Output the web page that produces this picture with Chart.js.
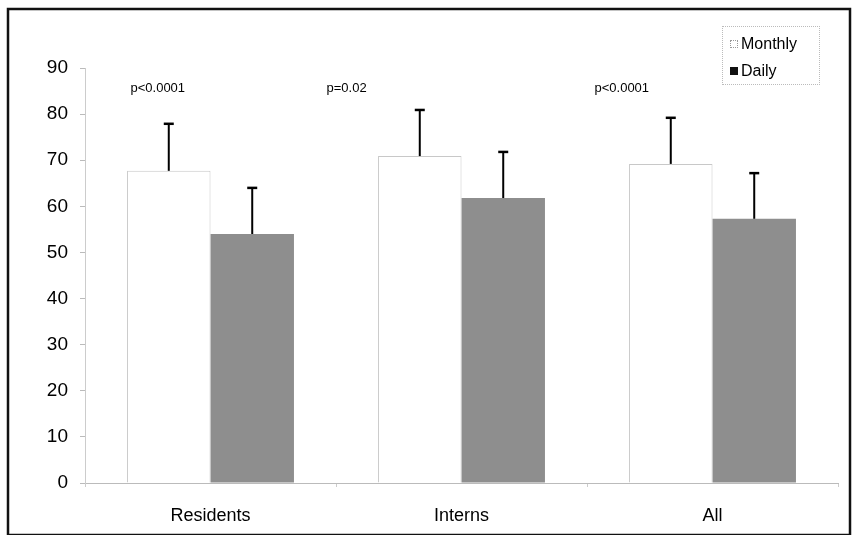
<!DOCTYPE html>
<html>
<head>
<meta charset="utf-8">
<script src="https://cdn.jsdelivr.net/npm/chart.js@4"></script>
<style>
    html, body { margin: 0; padding: 0; background: #fff; }
    #wrap { position: relative; width: 859px; height: 535px; }
    #legend {
        position: absolute; left: 722px; top: 26px; width: 96px; height: 57px;
        border: 1px dotted #bbb; font: 16px "Liberation Sans", Arial, sans-serif; color: #000;
    }
    #legend .row { position: absolute; left: 7px; height: 18px; line-height: 18px; }
    #legend .sw { display: inline-block; width: 8px; height: 8px; margin-right: 3px; vertical-align: 1px; box-sizing: border-box; }
</style>
</head>
<body>
<div id="wrap">
    <canvas id="chart" width="859" height="535"></canvas>
    <div id="legend">
        <div class="row" style="top:8px"><span class="sw" style="border:1px dotted #999;background:#fff"></span>Monthly</div>
        <div class="row" style="top:35px"><span class="sw" style="background:#111"></span>Daily</div>
    </div>
</div>
<script>
const groups = ["Residents", "Interns", "All"];
const monthly = [67.7, 70.9, 69.2];
const monthlySD = [10.2, 10.0, 10.0];
const daily = [54.0, 61.8, 57.3];
const dailySD = [10.0, 10.0, 9.9];
const pLabels = ["p<0.0001", "p=0.02", "p<0.0001"];
const pLevel = 85.5;
const yTicks = [0, 10, 20, 30, 40, 50, 60, 70, 80, 90];

const font = "Liberation Sans, Arial, sans-serif";

// error bars (upper half only) + p-value labels + outer frame
const extras = {
    id: "extras",
    afterDatasetsDraw(chart, args, opts) {
        const ctx = chart.ctx;
        const y = chart.scales.y, x = chart.scales.x;
        const errs = [monthlySD, dailySD];
        ctx.save();
        ctx.strokeStyle = "#000";
        chart.data.datasets.forEach((ds, di) => {
            chart.getDatasetMeta(di).data.forEach((bar, i) => {
                const top = y.getPixelForValue(ds.data[i] + errs[di][i]);
                ctx.lineWidth = 2;
                ctx.beginPath();
                ctx.moveTo(bar.x, bar.y);
                ctx.lineTo(bar.x, top);
                ctx.stroke();
                ctx.lineWidth = 2.5;
                ctx.beginPath();
                ctx.moveTo(bar.x - 5, top);
                ctx.lineTo(bar.x + 5, top);
                ctx.stroke();
            });
        });
        ctx.fillStyle = "#000";
        ctx.font = "13px " + font;
        ctx.textAlign = "left";
        ctx.textBaseline = "middle";
        pLabels.forEach((t, i) => {
            ctx.fillText(t, x.getPixelForValue(i) + opts.shift[i], y.getPixelForValue(pLevel));
        });
        ctx.lineWidth = 2.5;
        ctx.strokeStyle = "#111";
        ctx.strokeRect(8, 9, 842, 526);
        ctx.restore();
    }
};

new Chart(document.getElementById("chart"), {
    type: "bar",
    data: {
        labels: groups,
        datasets: [
            {
                label: "Monthly",
                data: monthly,
                backgroundColor: "#fff",
                borderColor: "#c8c8c8",
                borderWidth: 1
            },
            {
                label: "Daily",
                data: daily,
                backgroundColor: "#8e8e8e",
                borderWidth: 0
            }
        ]
    },
    options: {
        responsive: false,
        animation: false,
        layout: { padding: { left: 10, right: 21, top: 68, bottom: 8 } },
        datasets: { bar: { barPercentage: 1, categoryPercentage: 0.665 } },
        plugins: {
            legend: { display: false },
            tooltip: { enabled: false },
            extras: { shift: [-80, -135, -118] }
        },
        scales: {
            x: {
                afterFit(s) { s.height = 44; },
                grid: { drawOnChartArea: false, tickLength: 4, color: "#ccc" },
                border: { display: true, color: "#bbb" },
                ticks: { color: "#000", font: { family: font, size: 18 }, padding: 18 }
            },
            y: {
                min: 0, max: 90,
                afterFit(s) { s.width = 75; },
                afterBuildTicks(s) { s.ticks = yTicks.map(v => ({ value: v })); },
                grid: { drawOnChartArea: false, tickLength: 5, color: "#bbb" },
                border: { display: true, color: "#ccc" },
                ticks: { color: "#000", font: { family: font, size: 19 }, padding: 12 }
            }
        }
    },
    plugins: [extras]
});
</script>
</body>
</html>
